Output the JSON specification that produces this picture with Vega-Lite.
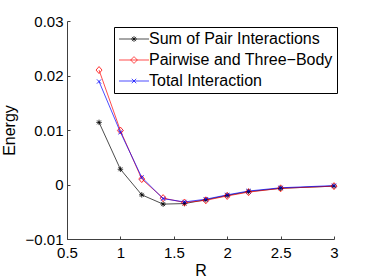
{
  "$schema": "https://vega.github.io/schema/vega-lite/v6.json",
  "autosize": {"type": "none"},
  "padding": {"left": 67, "top": 21, "right": 35, "bottom": 39},
  "width": 267,
  "height": 218,
  "background": "white",
  "config": {
    "view": {"stroke": null},
    "font": "Liberation Sans",
    "axis": {
      "domainColor": "#404040",
      "tickColor": "#404040",
      "tickSize": -3,
      "grid": false,
      "labelFont": "Liberation Sans",
      "labelFontSize": 15,
      "labelColor": "#000",
      "titleFont": "Liberation Sans",
      "titleFontSize": 16,
      "titleFontWeight": "normal",
      "titleColor": "#000"
    }
  },
  "data": {
    "values": [
      {"R": 0.8, "series": "Sum of Pair Interactions", "E": 0.0114},
      {"R": 1.0, "series": "Sum of Pair Interactions", "E": 0.0028},
      {"R": 1.2, "series": "Sum of Pair Interactions", "E": -0.0019},
      {"R": 1.4, "series": "Sum of Pair Interactions", "E": -0.0036},
      {"R": 1.6, "series": "Sum of Pair Interactions", "E": -0.0035},
      {"R": 1.8, "series": "Sum of Pair Interactions", "E": -0.0028},
      {"R": 2.0, "series": "Sum of Pair Interactions", "E": -0.002},
      {"R": 2.2, "series": "Sum of Pair Interactions", "E": -0.0013},
      {"R": 2.5, "series": "Sum of Pair Interactions", "E": -0.0007},
      {"R": 3.0, "series": "Sum of Pair Interactions", "E": -0.0003},
      {"R": 0.8, "series": "Pairwise and Three−Body", "E": 0.021},
      {"R": 1.0, "series": "Pairwise and Three−Body", "E": 0.0099},
      {"R": 1.2, "series": "Pairwise and Three−Body", "E": 0.001},
      {"R": 1.4, "series": "Pairwise and Three−Body", "E": -0.0025},
      {"R": 1.6, "series": "Pairwise and Three−Body", "E": -0.0033},
      {"R": 1.8, "series": "Pairwise and Three−Body", "E": -0.0029},
      {"R": 2.0, "series": "Pairwise and Three−Body", "E": -0.0021},
      {"R": 2.2, "series": "Pairwise and Three−Body", "E": -0.0014},
      {"R": 2.5, "series": "Pairwise and Three−Body", "E": -0.0007},
      {"R": 3.0, "series": "Pairwise and Three−Body", "E": -0.0003},
      {"R": 0.8, "series": "Total Interaction", "E": 0.0189},
      {"R": 1.0, "series": "Total Interaction", "E": 0.0096},
      {"R": 1.2, "series": "Total Interaction", "E": 0.0013},
      {"R": 1.4, "series": "Total Interaction", "E": -0.0026},
      {"R": 1.6, "series": "Total Interaction", "E": -0.0032},
      {"R": 1.8, "series": "Total Interaction", "E": -0.0027},
      {"R": 2.0, "series": "Total Interaction", "E": -0.0019},
      {"R": 2.2, "series": "Total Interaction", "E": -0.0012},
      {"R": 2.5, "series": "Total Interaction", "E": -0.0006},
      {"R": 3.0, "series": "Total Interaction", "E": -0.0002}
    ]
  },
  "encoding": {
    "x": {
      "field": "R", "type": "quantitative",
      "scale": {"domain": [0.5, 3], "nice": false, "zero": false},
      "axis": {"values": [0.5, 1, 1.5, 2, 2.5, 3], "format": "~g", "labelPadding": 9, "title": "R", "titlePadding": 2, "labelFlush": false}
    },
    "y": {
      "field": "E", "type": "quantitative",
      "scale": {"domain": [-0.01, 0.03], "nice": false, "zero": false},
      "axis": {"values": [-0.01, 0, 0.01, 0.02, 0.03], "format": ".2~f", "labelPadding": 7, "title": "Energy", "titlePadding": 8, "labelFlush": false}
    }
  },
  "layer": [
    {
      "mark": {"type": "line", "strokeWidth": 0.7},
      "encoding": {
        "color": {
          "field": "series", "type": "nominal",
          "scale": {"domain": ["Sum of Pair Interactions", "Pairwise and Three−Body", "Total Interaction"], "range": ["#000000", "#ff0000", "#0000ff"]},
          "legend": {
            "title": null,
            "orient": "none",
            "legendX": 47,
            "legendY": 6,
            "direction": "vertical",
            "strokeColor": "#000",
            "fillColor": "white",
            "padding": 4,
            "rowPadding": 5,
            "symbolSize": 225,
            "symbolOffset": 8,
            "labelOffset": 7,
            "symbolStrokeWidth": 0.7,
            "labelFont": "Liberation Sans",
            "labelFontSize": 16,
            "labelColor": "#000",
            "labelLimit": 400,
            "encode": {
              "symbols": {
                "update": {
                  "shape": {"signal": "substring(datum.value,0,1) === 'S' ? 'M-2,0H2M-0.4,0H0.4M0,-0.4V0.4M-0.28,-0.28L0.28,0.28M-0.28,0.28L0.28,-0.28' : (substring(datum.value,0,1) === 'P' ? 'M-2,0H2M-0.45,0L0,-0.45L0.45,0L0,0.45Z' : 'M-2,0H2M-0.3,-0.3L0.3,0.3M-0.3,0.3L0.3,-0.3')"},
                  "fill": {"value": "transparent"},
                  "fillOpacity": {"value": 0}
                }
              }
            }
          }
        }
      }
    },
    {
      "transform": [{"filter": "datum.series === 'Sum of Pair Interactions'"}],
      "mark": {"type": "point", "filled": false, "size": 42, "strokeWidth": 0.8, "opacity": 1, "color": "#000000", "shape": "M-0.85,0H0.85M0,-0.85V0.85M-0.6,-0.6L0.6,0.6M-0.6,0.6L0.6,-0.6"}
    },
    {
      "transform": [{"filter": "datum.series === 'Pairwise and Three−Body'"}],
      "mark": {"type": "point", "filled": false, "size": 49, "strokeWidth": 0.8, "opacity": 1, "color": "#ff0000", "shape": "M-0.85,0L0,-1L0.85,0L0,1Z"}
    },
    {
      "transform": [{"filter": "datum.series === 'Total Interaction'"}],
      "mark": {"type": "point", "filled": false, "size": 49, "strokeWidth": 0.8, "opacity": 1, "color": "#0000ff", "shape": "M-0.6,-0.6L0.6,0.6M-0.6,0.6L0.6,-0.6"}
    }
  ]
}
